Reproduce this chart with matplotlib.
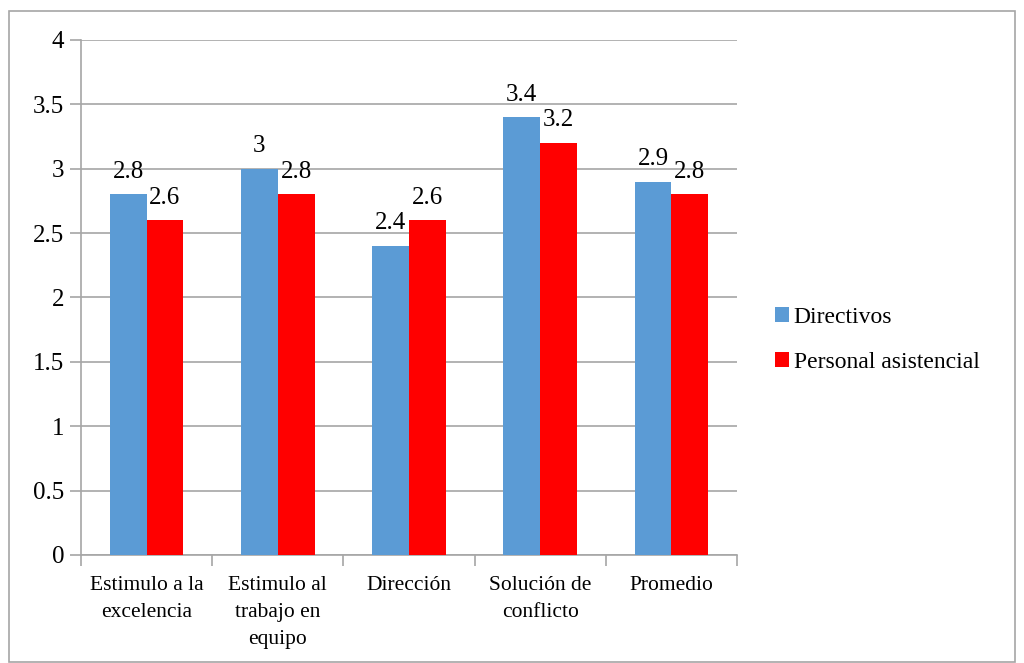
import matplotlib.pyplot as plt
import numpy as np
from matplotlib.patches import Rectangle

categorias = ["Estimulo a la\nexcelencia", "Estimulo al\ntrabajo en\nequipo", "Dirección",
              "Solución de\nconflicto", "Promedio"]
directivos = [2.8, 3.0, 2.4, 3.4, 2.9]
personal = [2.6, 2.8, 2.6, 3.2, 2.8]
yticks = [0, 0.5, 1, 1.5, 2, 2.5, 3, 3.5, 4]
ytick_labels = ["0", "0.5", "1", "1.5", "2", "2.5", "3", "3.5", "4"]

plt.rcParams['font.family'] = ['Liberation Serif', 'DejaVu Serif']

fig = plt.figure(figsize=(10.24, 6.63), dpi=100)
ax = fig.add_axes([0.0791, 0.1629, 0.6406, 0.7768])

# marco gris alrededor del grafico
fig.patches.append(Rectangle((9/1024, 1/663), 1006/1024, 651/663, transform=fig.transFigure,
                             fill=False, edgecolor="#a6a6a6", linewidth=1.2))

x = np.arange(len(categorias))
w = 0.28
b1 = ax.bar(x - w/2, directivos, w, color="#5b9bd5", label="Directivos", zorder=3)
b2 = ax.bar(x + w/2, personal, w, color="#ff0000", label="Personal asistencial", zorder=3)

for rect, v in zip(b1, directivos):
    ax.text(rect.get_x() + rect.get_width()/2, v + 0.09, f"{v:g}", ha="center", va="bottom",
            fontsize=18)
for rect, v in zip(b2, personal):
    ax.text(rect.get_x() + rect.get_width()/2, v + 0.09, f"{v:g}", ha="center", va="bottom",
            fontsize=18)

ax.set_xlim(-0.5, len(categorias) - 0.5)
ax.set_ylim(0, 4)
ax.set_yticks(yticks)
ax.set_yticklabels(ytick_labels, fontsize=18)
ax.yaxis.grid(True, color="#a6a6a6", linewidth=1.2, zorder=0)
ax.set_xticks(x)
ax.set_xticklabels(categorias, fontsize=15.5, linespacing=1.58)
ax.set_xticks(np.arange(-0.5, len(categorias)), minor=True)
ax.tick_params(axis="x", which="major", length=0, pad=15)
ax.tick_params(axis="x", which="minor", length=8, color="#a6a6a6", width=1.2)
ax.tick_params(axis="y", length=8, color="#a6a6a6", width=1.2, pad=4)

for s in ["top", "right"]:
    ax.spines[s].set_visible(False)
for s in ["left", "bottom"]:
    ax.spines[s].set_color("#a6a6a6")
    ax.spines[s].set_linewidth(1.2)

fig.legend(handles=[b1, b2], loc="center left", bbox_to_anchor=(0.736, 0.487), frameon=False,
           fontsize=17, handlelength=0.6, handleheight=0.6, handletextpad=0.2,
           labelspacing=1.0)

fig.savefig("out.png", dpi=100)
